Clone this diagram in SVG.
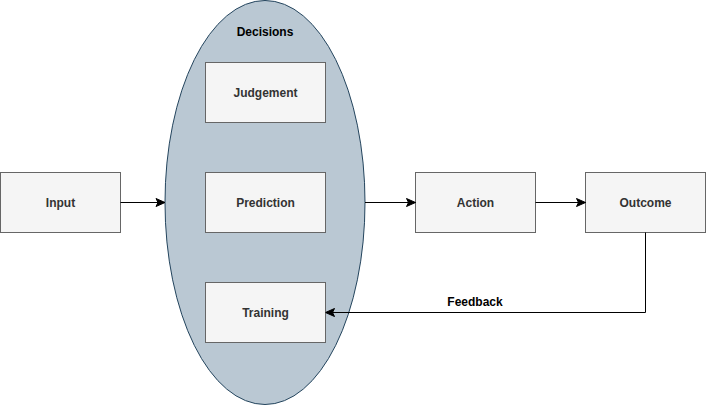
<svg xmlns="http://www.w3.org/2000/svg" width="706" height="405" viewBox="0 0 706 405">
<style>
.box{fill:#f5f5f5;stroke:#666666;stroke-width:1}
.lbl{font-family:"Liberation Sans",Arial,sans-serif;font-size:12px;font-weight:bold;fill:#333333;text-anchor:middle;dominant-baseline:central}
.blk{font-family:"Liberation Sans",Arial,sans-serif;font-size:12px;font-weight:bold;fill:#000000;text-anchor:middle;dominant-baseline:central}
.edge{fill:none;stroke:#000000;stroke-width:1}
</style>
<defs>
<marker id="arr" viewBox="0 0 10 10" refX="10" refY="5" markerWidth="10" markerHeight="10" markerUnits="userSpaceOnUse" orient="auto">
<path d="M10,5 L1,1 L3,5 L1,9 Z" fill="#000000" stroke="#000000" stroke-width="1"/>
</marker>
</defs>
<g id="decisions">
<ellipse cx="265" cy="202.5" rx="100" ry="202" fill="#bac8d3" stroke="#23445d" stroke-width="1"/>
<text class="blk" x="265" y="32">Decisions</text>
</g>
<g id="input">
<rect class="box" x="0.5" y="172.5" width="120" height="60"/>
<text class="lbl" x="60.5" y="202.5">Input</text>
</g>
<g id="judgement">
<rect class="box" x="205.5" y="62.5" width="120" height="60"/>
<text class="lbl" x="265.5" y="92.5">Judgement</text>
</g>
<g id="prediction">
<rect class="box" x="205.5" y="172.5" width="120" height="60"/>
<text class="lbl" x="265.5" y="202.5">Prediction</text>
</g>
<g id="training">
<rect class="box" x="205.5" y="282.5" width="120" height="60"/>
<text class="lbl" x="265.5" y="312.5">Training</text>
</g>
<g id="action">
<rect class="box" x="415.5" y="172.5" width="120" height="60"/>
<text class="lbl" x="475.5" y="202.5">Action</text>
</g>
<g id="outcome">
<rect class="box" x="585.5" y="172.5" width="120" height="60"/>
<text class="lbl" x="645.5" y="202.5">Outcome</text>
</g>
<g id="connectors">
<path class="edge" d="M120.5,202.5 L165,202.5" marker-end="url(#arr)"/>
<path class="edge" d="M365,202.5 L415.5,202.5" marker-end="url(#arr)"/>
<path class="edge" d="M535.5,202.5 L585.5,202.5" marker-end="url(#arr)"/>
<path class="edge" d="M645.5,232.5 L645.5,312.5 L325.5,312.5" marker-end="url(#arr)"/>
<text class="blk" x="475" y="302">Feedback</text>
</g>
</svg>
